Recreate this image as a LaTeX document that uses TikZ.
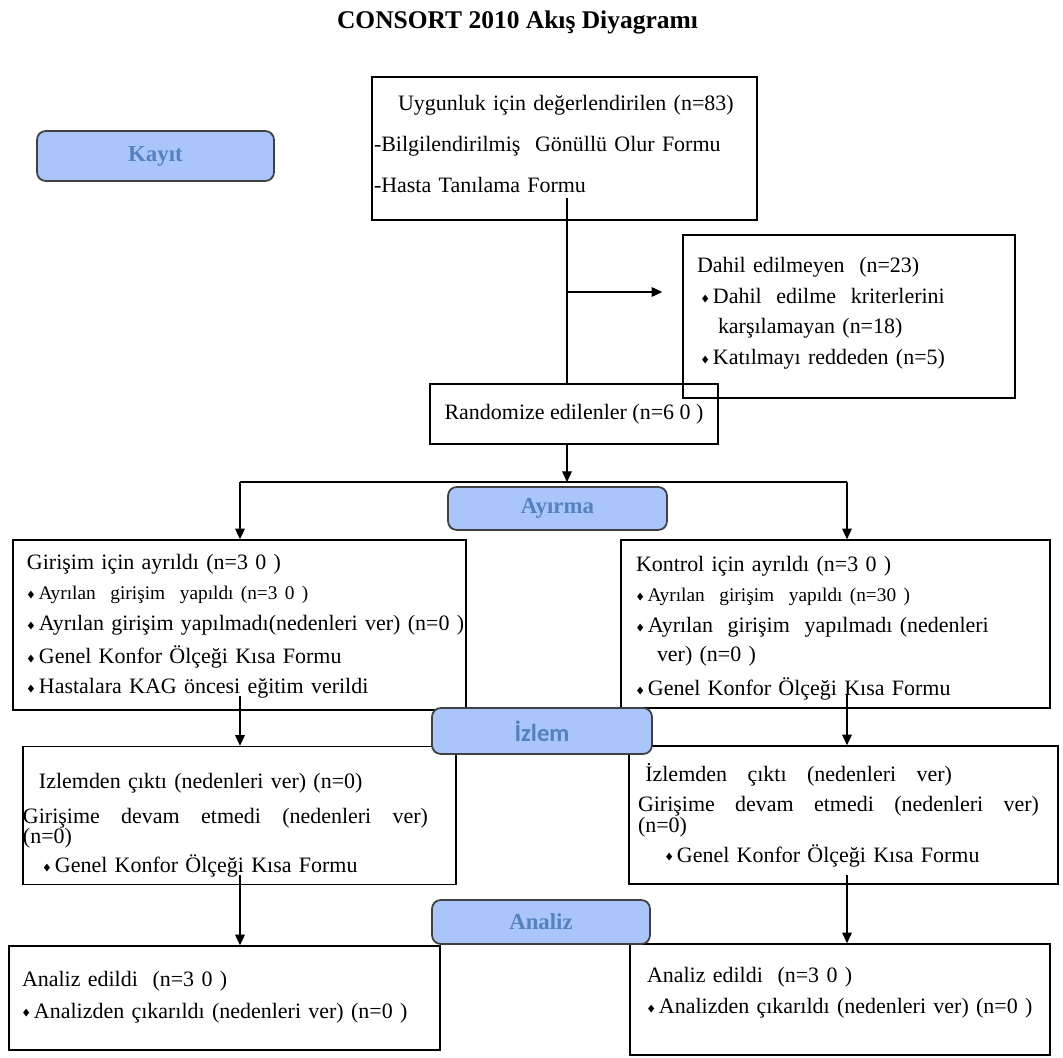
\documentclass[tikz,border=0pt]{standalone}
\usepackage{amssymb}
\usepackage{fontspec}
\setmainfont{Liberation Serif}
\newfontfamily\izlemfont{Carlito}
\usepackage{tikz}
\usetikzlibrary{arrows.meta}

\definecolor{phasefill}{RGB}{169,197,249}
\definecolor{phasetext}{RGB}{84,130,192}
\newcommand{\bul}{\raisebox{0.25ex}{\tiny$\blacklozenge$}\,}
\newcommand{\smallline}{\fontsize{11}{12}\selectfont}

\tikzset{
  box/.style={draw, line width=0.9pt, rectangle, align=left, inner ysep=0pt,
    font=\fontsize{12.5}{12}\selectfont},
  phase/.style={draw=black!75, line width=1pt, fill=phasefill, rounded corners=5pt,
    text=phasetext, font=\bfseries\fontsize{13}{15}\selectfont},
  arr/.style={line width=0.6pt, -{Triangle[length=6pt,width=5.5pt]}},
  link/.style={line width=0.6pt}
}

\begin{document}
\begin{tikzpicture}
    \useasboundingbox (0,0) rectangle (21.26,-21.16);

    \node[font=\bfseries\fontsize{14.5}{16}\selectfont] (title) at (10.35,-0.44) {CONSORT 2010 Akış Diyagramı};

    % kayit
    \node[box, text width=7.62cm, inner xsep=0.04cm, minimum height=2.86cm] (uygun) at (11.29,-2.97)
      {\hspace*{0.48cm}Uygunluk için değerlendirilen (n=83)\\[11.3pt]
       -Bilgilendirilmiş\ \ Gönüllü Olur Formu\\[11.3pt]
       -Hasta Tanılama Formu\rule[-5pt]{0pt}{5pt}};
    \node[box, text width=6.08cm, inner xsep=0.28cm, minimum height=3.26cm] (dahil) at (16.98,-6.33)
      {Dahil edilmeyen\ \ (n=23)\\[5.6pt]
       \hspace*{0.08cm}\bul Dahil\ \ edilme\ \ kriterlerini\\[5pt]
       \hspace*{0.42cm}karşılamayan (n=18)\\[5.6pt]
       \hspace*{0.08cm}\bul Katılmayı reddeden (n=5)\rule[-6pt]{0pt}{6pt}};
    \node[box, minimum width=5.76cm, minimum height=1.2cm, align=center] (random) at (11.48,-8.28)
      {Randomize edilenler (n=6 0 )};

    % ayirma
    \node[box, text width=8.5cm, inner xsep=0.28cm, minimum height=3.4cm] (girisim) at (4.79,-12.5)
      {\rule{0pt}{10pt}Girişim için ayrıldı (n=3 0 )\\[5.6pt]
       {\smallline\bul Ayrılan\ \ girişim\ \ yapıldı (n=3 0 )}\\[5.6pt]
       \mbox{\bul Ayrılan girişim yapılmadı(nedenleri ver) (n=0 )}\\[5pt]
       \bul Genel Konfor Ölçeği Kısa Formu\\[5pt]
       \bul Hastalara KAG öncesi eğitim verildi};
    \node[box, text width=7.98cm, inner xsep=0.3cm, minimum height=3.36cm] (kontrol) at (16.71,-12.48)
      {\rule{0pt}{14pt}Kontrol için ayrıldı (n=3 0 )\\[5pt]
       {\smallline\bul Ayrılan\ \ girişim\ \ yapıldı (n=30 )}\\[5.6pt]
       \bul Ayrılan\ \ girişim\ \ yapılmadı (nedenleri\\[4.5pt]
       \hspace*{0.42cm}ver) (n=0 )\\[5.6pt]
       \bul Genel Konfor Ölçeği Kısa Formu};

    % izlem
    \node[box, text width=8.66cm, inner xsep=0pt, minimum height=2.76cm] (izlemL) at (4.79,-16.31)
      {\rule{0pt}{20pt}\hspace*{0.32cm}Izlemden çıktı (nedenleri ver) (n=0)\\[7.9pt]
       \makebox[8.1cm][l]{Girişime\hfill devam\hfill etmedi\hfill (nedenleri\hfill ver)}\\[-0.6pt]
       (n=0)\\[3pt]
       \hspace*{0.4cm}\bul Genel Konfor Ölçeği Kısa Formu};
    \node[box, text width=8.22cm, inner xsep=0.18cm, minimum height=2.76cm] (izlemR) at (16.87,-16.3)
      {\makebox[6.28cm][l]{\ İzlemden\hfill çıktı\hfill (nedenleri\hfill ver)}\\[5.1pt]
       \makebox[8.02cm][l]{Girişime\hfill devam\hfill etmedi\hfill (nedenleri\hfill ver)}\\
       (n=0)\\[3pt]
       \hspace*{0.54cm}\bul Genel Konfor Ölçeği Kısa Formu};

    % analiz
    \node[box, text width=8.1cm, inner xsep=0.26cm, minimum height=2.08cm] (analizL) at (4.49,-19.96)
      {Analiz edildi\ \ (n=3 0 )\\[6.2pt]
       \mbox{\bul Analizden çıkarıldı (nedenleri ver) (n=0 )}\rule[-4pt]{0pt}{4pt}};
    \node[box, text width=7.72cm, inner xsep=0.34cm, minimum height=2.22cm] (analizR) at (16.8,-19.99)
      {Analiz edildi\ \ (n=3 0 )\\[5.6pt]
       \mbox{\bul Analizden çıkarıldı (nedenleri ver) (n=0 )}\rule[-10pt]{0pt}{10pt}};

    % columns
    \coordinate (spine) at (11.34,-5.84);
    \coordinate (split) at (11.34,-9.64);
    \coordinate (leftc) at (4.8,-9.64);
    \coordinate (rightc) at (16.94,-9.64);

    \draw[link, shorten <=-0.45cm] (spine |- uygun.south) -- (spine |- random.north);
    \draw[arr, shorten >=0.4cm] (spine) -- (spine -| dahil.west);
    \draw[arr] (spine |- random.south) -- (split);
    \draw[link] (leftc) -- (rightc);
    \draw[arr] (leftc) -- (leftc |- girisim.north);
    \draw[arr] (rightc) -- (rightc |- kontrol.north);
    \draw[arr, shorten <=-0.3cm] (leftc |- girisim.south) -- (leftc |- izlemL.north);
    \draw[arr, shorten <=-0.3cm] (rightc |- kontrol.south) -- (rightc |- izlemR.north);
    \draw[arr, shorten <=-0.2cm] (leftc |- izlemL.south) -- (leftc |- analizL.north);
    \draw[arr, shorten <=-0.2cm] (rightc |- izlemR.south) -- (rightc |- analizR.north);

    % phases
    \node[phase, minimum width=4.74cm, minimum height=1cm] (kayit) at (3.11,-3.12) {Kayıt};
    \node[phase, minimum width=4.38cm, minimum height=0.86cm] (ayirma) at (11.15,-10.17) {Ayırma};
    \node[phase, minimum width=4.4cm, minimum height=0.92cm, font=\izlemfont\bfseries\fontsize{14}{16}\selectfont] (izlem) at (10.84,-14.62) {İzlem};
    \node[phase, minimum width=4.36cm, minimum height=0.88cm] (analiz) at (10.82,-18.44) {Analiz};
\end{tikzpicture}
\end{document}
